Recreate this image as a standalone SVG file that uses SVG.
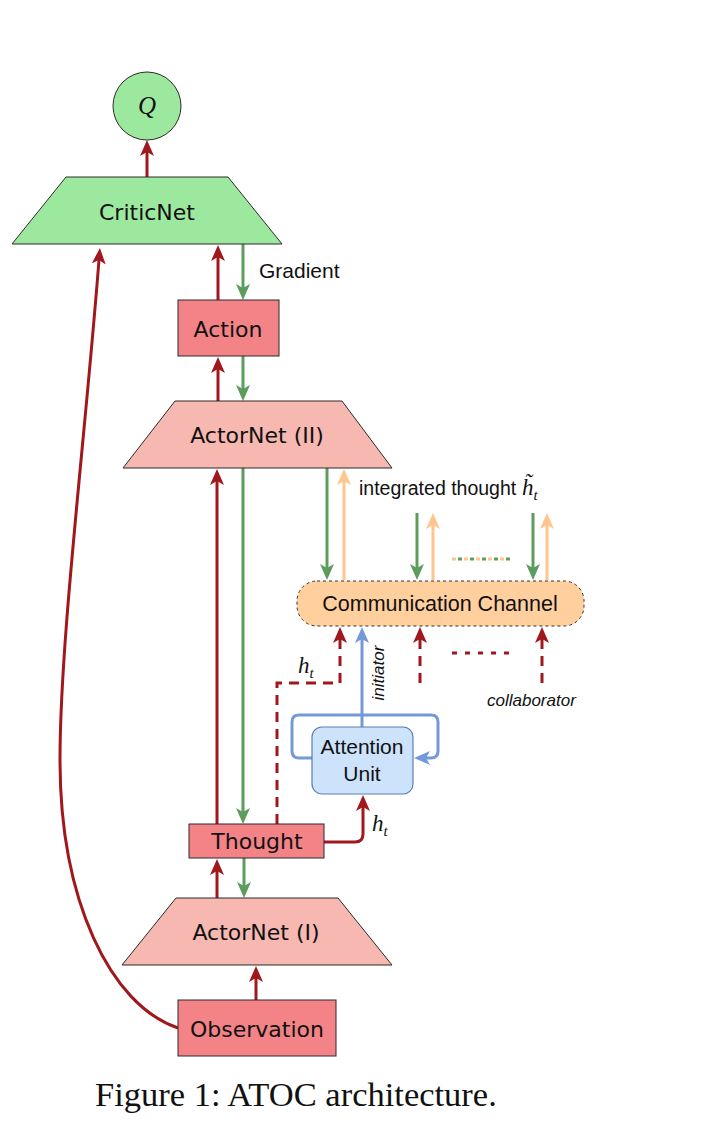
<svg xmlns="http://www.w3.org/2000/svg" width="710" height="1144" viewBox="0 0 710 1144">
  <defs>
    <style>
      .node { stroke: #2b2b2b; stroke-width: 1; }
      .green-fill { fill: #9de89f; }
      .actor-fill { fill: #f6b8b0; }
      .box-fill { fill: #f48387; }
      .lbl { font-family: "DejaVu Sans", Verdana, sans-serif; font-size: 22px; fill: #111; text-anchor: middle; }
      .sans { font-family: "Liberation Sans", Arial, sans-serif; fill: #111; }
      .math { font-family: "Liberation Serif", "Times New Roman", serif; font-style: italic; fill: #111; }
      .red { stroke: #a0181c; stroke-width: 3; fill: none; marker-end: url(#ah-red); }
      .green { stroke: #5c9c5c; stroke-width: 3; fill: none; marker-end: url(#ah-green); }
      .orange { stroke: #ffc58c; stroke-width: 3; fill: none; marker-end: url(#ah-orange); }
      .blue { stroke: #7399d8; stroke-width: 3; fill: none; marker-end: url(#ah-blue); }
      .dash { stroke-dasharray: 10 7; }
    </style>
    <marker id="ah-red" viewBox="0 0 16 14" refX="4" refY="7" markerWidth="16" markerHeight="14" markerUnits="userSpaceOnUse" orient="auto">
      <path d="M0,0 L16,7 L0,14 L4,7 z" fill="#a0181c"/>
    </marker>
    <marker id="ah-green" viewBox="0 0 16 14" refX="4" refY="7" markerWidth="16" markerHeight="14" markerUnits="userSpaceOnUse" orient="auto">
      <path d="M0,0 L16,7 L0,14 L4,7 z" fill="#5c9c5c"/>
    </marker>
    <marker id="ah-orange" viewBox="0 0 16 14" refX="4" refY="7" markerWidth="16" markerHeight="14" markerUnits="userSpaceOnUse" orient="auto">
      <path d="M0,0 L16,7 L0,14 L4,7 z" fill="#ffc58c"/>
    </marker>
    <marker id="ah-blue" viewBox="0 0 16 14" refX="4" refY="7" markerWidth="16" markerHeight="14" markerUnits="userSpaceOnUse" orient="auto">
      <path d="M0,0 L16,7 L0,14 L4,7 z" fill="#7399d8"/>
    </marker>
  </defs>

  <rect width="710" height="1144" fill="#ffffff"/>

  <!-- connectors -->
  <g id="connectors">
    <!-- forward (red) -->
    <path class="red" d="M147,177 V152"/>
    <path class="red" d="M218,300 V257"/>
    <path class="red" d="M218,401 V369"/>
    <path class="red" d="M217,824 V481"/>
    <path class="red" d="M217,898 V871"/>
    <path class="red" d="M256,1000 V978"/>
    <path class="red" d="M178,1028 C110,1005 60,900 60,760 C60,640 85,440 99,260"/>
    <path class="red" d="M324,842 H355 Q363,842 363,834 V807"/>
    <!-- gradients (green) -->
    <path class="green" d="M243,244 V288"/>
    <path class="green" d="M243,356 V389"/>
    <path class="green" d="M243,468 V812"/>
    <path class="green" d="M244,858 V886"/>
    <path class="green" d="M327,468 V568"/>
    <path class="green" d="M417,513 V568"/>
    <path class="green" d="M533,513 V568"/>
    <!-- integrated thoughts (orange) -->
    <path class="orange" d="M344,580 V481"/>
    <path class="orange" d="M433,580 V525"/>
    <path class="orange" d="M547,580 V525"/>
    <path d="M452,559 H512" stroke="#ffc58c" stroke-width="3" stroke-dasharray="4 8" fill="none"/>
    <path d="M458,559 H512" stroke="#5c9c5c" stroke-width="3" stroke-dasharray="4 8" fill="none"/>
    <!-- attention (blue) -->
    <path class="blue" d="M362,727 V639"/>
    <path class="blue" d="M312,758 H299 Q292,758 292,751 V722 Q292,715 299,715 H431 Q438,715 438,722 V751 Q438,758 431,758 H426"/>
    <!-- hidden states sent to the channel (red dashed) -->
    <path class="red dash" d="M277,824 V683 H340 V639"/>
    <path class="red dash" d="M420,683 V639"/>
    <path class="red dash" d="M542,683 V639"/>
    <path d="M452,653 H512" stroke="#a0181c" stroke-width="3" stroke-dasharray="5 8" fill="none"/>
  </g>

  <!-- nodes -->
  <g id="node-q">
    <circle class="node green-fill" cx="147" cy="106" r="34"/>
    <text class="math" x="147" y="114" font-size="25" text-anchor="middle">Q</text>
  </g>
  <g id="node-criticnet">
    <polygon class="node green-fill" points="66,177 228,177 282,244 12,244"/>
    <text class="lbl" x="147" y="220">CriticNet</text>
  </g>
  <g id="node-action">
    <rect class="node box-fill" x="178" y="300" width="101" height="56"/>
    <text class="lbl" x="228" y="337">Action</text>
  </g>
  <g id="node-actornet-2">
    <polygon class="node actor-fill" points="175,401 342,401 392,468 123,468"/>
    <text class="lbl" x="257" y="443">ActorNet (II)</text>
  </g>
  <g id="node-channel">
    <rect x="297" y="581" width="287" height="45" rx="20" fill="#ffcf9e" stroke="#333" stroke-width="1" stroke-dasharray="3 3"/>
    <text class="sans" x="440" y="611" font-size="21.5" text-anchor="middle">Communication Channel</text>
  </g>
  <g id="node-attention">
    <rect x="312" y="727" width="101" height="67" rx="10" fill="#cce3fb" stroke="#5b7fb5" stroke-width="1.2"/>
    <text class="sans" x="362" y="754" font-size="21" text-anchor="middle">Attention</text>
    <text class="sans" x="362" y="781" font-size="21" text-anchor="middle">Unit</text>
  </g>
  <g id="node-thought">
    <rect class="node box-fill" x="189" y="824" width="135" height="34"/>
    <text class="lbl" x="257" y="849">Thought</text>
  </g>
  <g id="node-actornet-1">
    <polygon class="node actor-fill" points="176,898 338,898 392,965 122,965"/>
    <text class="lbl" x="256" y="940">ActorNet (I)</text>
  </g>
  <g id="node-observation">
    <rect class="node box-fill" x="178" y="1000" width="158" height="56"/>
    <text class="lbl" x="257" y="1037">Observation</text>
  </g>

  <!-- edge labels -->
  <g id="labels">
    <text class="sans" x="259" y="278" font-size="21">Gradient</text>
    <text class="sans" x="359" y="495" font-size="19.5">integrated thought</text>
    <text class="math" x="522" y="495" font-size="23">h&#x0303;<tspan font-size="15" dy="5">t</tspan></text>
    <text class="math" x="298" y="673" font-size="23">h<tspan font-size="15" dy="5">t</tspan></text>
    <text class="math" x="372" y="831" font-size="23">h<tspan font-size="15" dy="5">t</tspan></text>
    <text class="sans" x="0" y="0" font-size="17" font-style="italic" text-anchor="middle" transform="translate(384,673) rotate(-90)">initiator</text>
    <text class="sans" x="487" y="706" font-size="17" font-style="italic">collaborator</text>
  </g>

  <text x="95" y="1106" font-family="Liberation Serif, 'Times New Roman', serif" font-size="34.5" fill="#111">Figure 1: ATOC architecture.</text>
</svg>
